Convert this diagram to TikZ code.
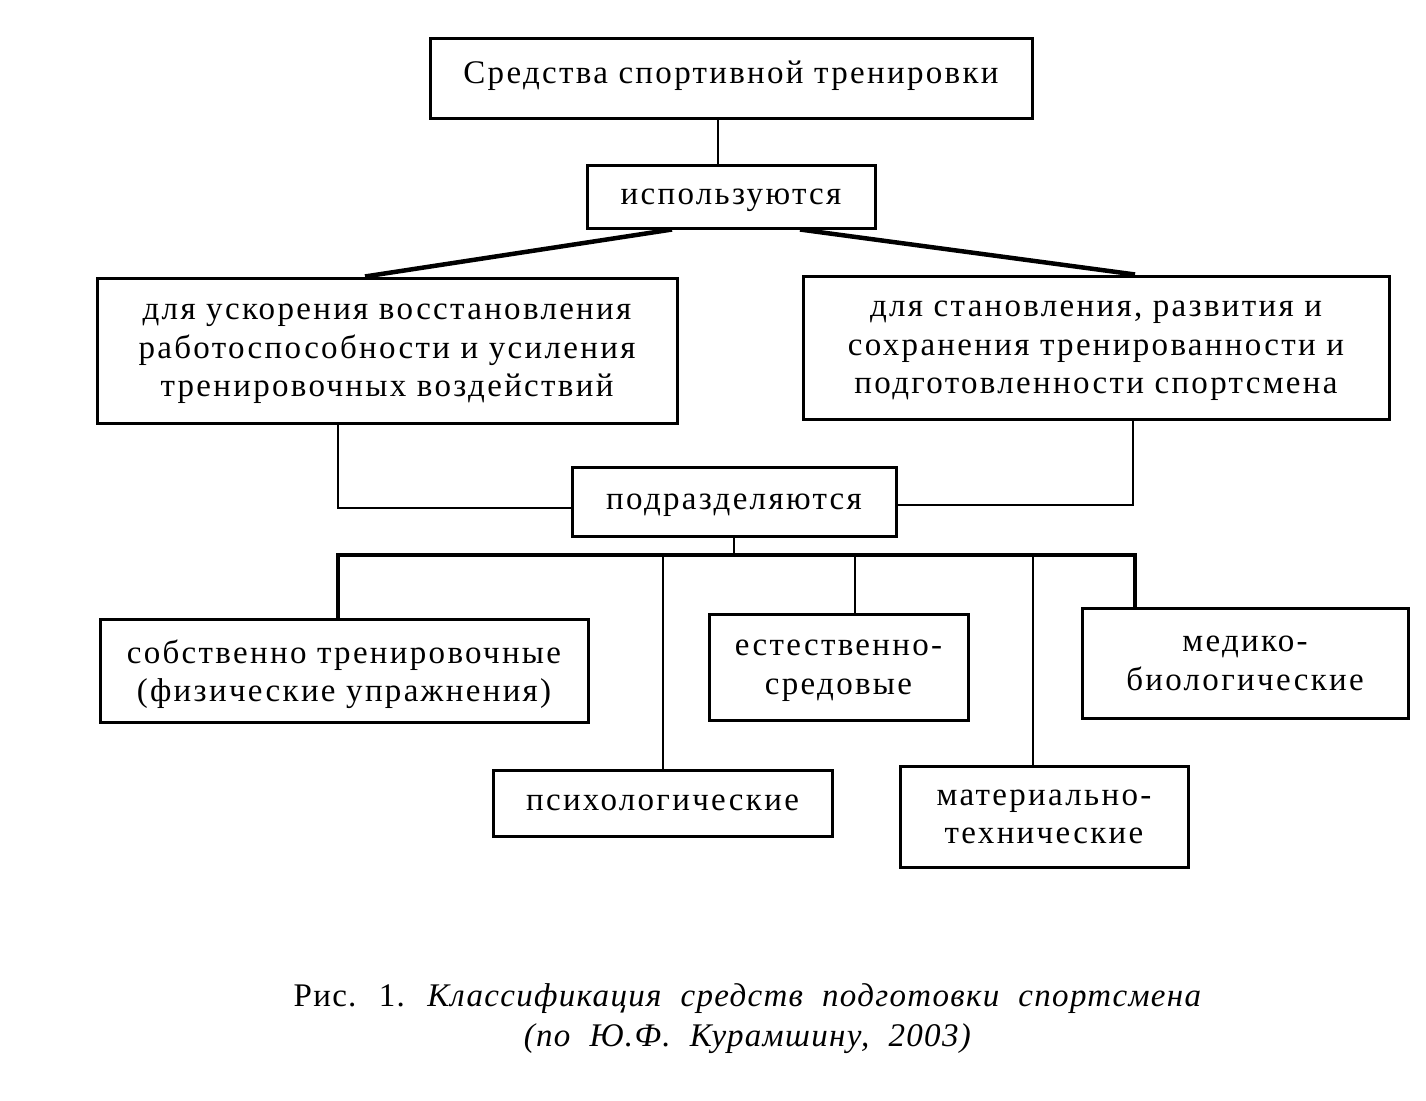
\documentclass[tikz,border=0pt]{standalone}
\usepackage{fontspec}
\setmainfont{Liberation Serif}
\newfontfamily\espace[LetterSpace=7]{Liberation Serif}
\newfontfamily\legendefont[LetterSpace=4, WordSpace=2]{Liberation Serif}
\usetikzlibrary{calc, positioning}

\begin{document}
\begin{tikzpicture}[x=1pt, y=-1pt]
		\tikzstyle{boite}=[draw, line width=3pt, inner sep=0pt, align=center,
		  text depth=-8pt, font=\espace\fontsize{33}{38.5}\selectfont]
		\tikzstyle{lien}=[line width=2pt]
		\tikzstyle{lienepais}=[line width=4.5pt]
                \useasboundingbox (0,0) rectangle (1426,1100);
                \node[boite, text depth=12pt, minimum width=602pt, minimum height=80pt] (titre)
                at (731,78) {Средства спортивной тренировки};
                \node[boite, minimum width=288pt, minimum height=63pt] (usage)
                at (731,196.5) {используются};
                \node[boite, minimum width=580pt, minimum height=145pt] (gauche)
                at (387,350.5) {для ускорения восстановления\\работоспособности
                  и усиления\\тренировочных воздействий};
                \node[boite, minimum width=586pt, minimum height=143pt] (droite)
                at (1096,347.5) {для становления, развития и\\сохранения
                  тренированности и\\подготовленности спортсмена};
                \node[boite, minimum width=324pt, minimum height=69pt] (subdiv)
                at (734,501.5) {подразделяются};
                \node[boite, minimum width=488pt, minimum height=103pt] (propres)
                at (344,670.5) {собственно тренировочные\\(физические упражнения)};
                \node[boite, minimum width=259pt, minimum height=106pt] (milieu)
                at (838.5,667) {естественно-\\средовые};
                \node[boite, minimum width=326pt, minimum height=110pt] (medico)
                at (1245,663) {медико-\\биологические};
                \node[boite, minimum width=339pt, minimum height=66pt] (psycho)
                at (662.5,803) {психологические};
                \node[boite, minimum width=288pt, minimum height=101pt] (materiel)
                at (1044,816.5) {материально-\\технические};
                \node[align=center, font=\legendefont\fontsize{33}{40}\selectfont] (legende)
                at (748,1019) {Рис. 1. \textit{Классификация средств подготовки
                  спортсмена}\\\textit{(по Ю.Ф. Курамшину, 2003)}};
                \coordinate (bus) at (734,555);
                \draw[lien] ([xshift=-13pt]titre.south) -- ([xshift=-13pt]usage.north);
                \draw[lienepais] ([xshift=-59pt]usage.south) -- ([xshift=-22pt]gauche.north);
                \draw[lienepais] ([xshift=69pt]usage.south) -- ([xshift=39pt]droite.north);
                \draw[lien] ([xshift=-49pt]gauche.south) |- ([yshift=-6.5pt]subdiv.west);
                \draw[lien] ([xshift=37pt]droite.south) |- ([yshift=-3.5pt]subdiv.east);
                \draw[lien] (subdiv.south) -- (bus);
                \draw[lienepais] ([xshift=-6pt]propres.north) |- (bus)
                -| ([xshift=-110pt]medico.north);
                \draw[lien] ([xshift=16.5pt]milieu.north) -- ([xshift=16.5pt]milieu.north |- bus);
                \draw[lien] (psycho.north) -- (psycho.north |- bus);
                \draw[lien] ([xshift=-11pt]materiel.north) -- ([xshift=-11pt]materiel.north |- bus);
	\end{tikzpicture}
\end{document}
